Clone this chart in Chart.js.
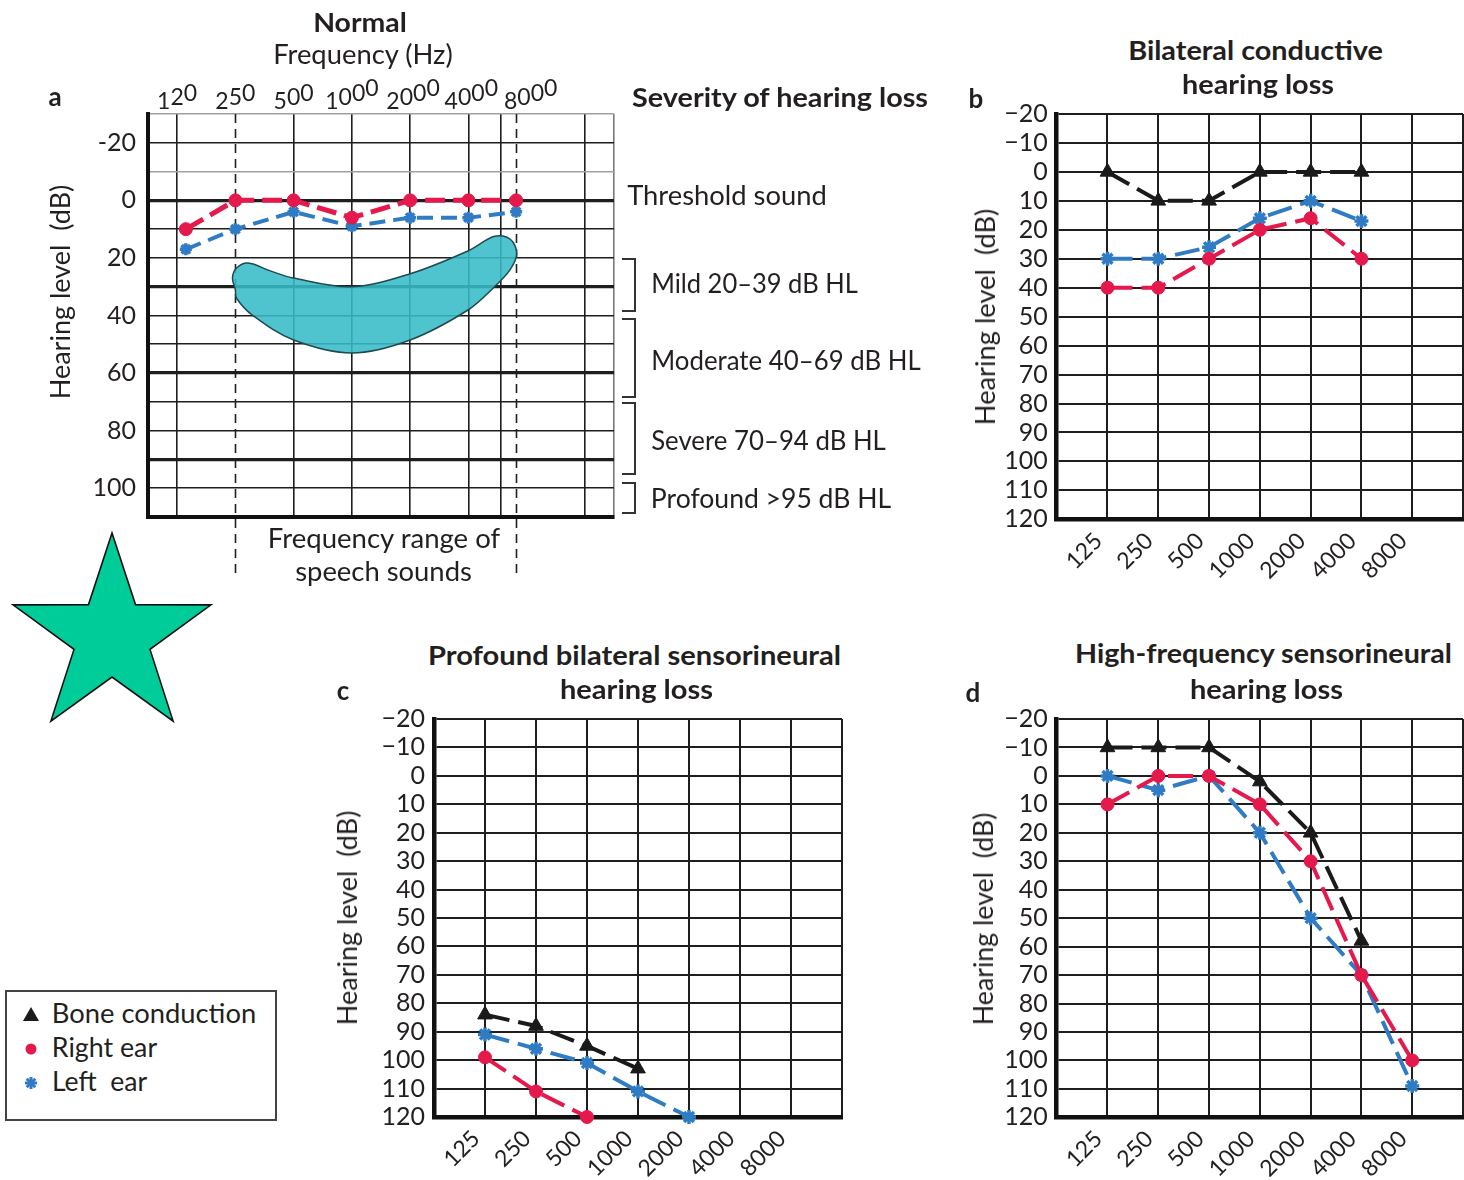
<!DOCTYPE html>
<html><head><meta charset="utf-8">
<script src="https://cdn.jsdelivr.net/npm/chart.js@4.4.1/dist/chart.umd.min.js"></script>
<style>
html,body{margin:0;padding:0;background:#fff}
body{width:1464px;height:1180px;position:relative;overflow:hidden;font-family:Lato,'Open Sans',sans-serif;color:#231f20}
canvas{position:absolute}
.t{position:absolute;left:0;top:0;white-space:nowrap;font-size:26px;line-height:30px;transform-origin:0 0}
.b{font-weight:700}
.brk{position:absolute;border:2px solid #333;border-left:none;width:12px}
#legend{position:absolute;left:5px;top:990px;width:268px;height:127px;border:2px solid #444}
</style></head><body>
<svg id="deco" width="1464" height="1180" style="position:absolute;left:0;top:0"></svg>
<canvas id="ca" width="660" height="600" style="left:0px;top:0px"></canvas>
<canvas id="cb" width="524" height="510" style="left:960px;top:90px"></canvas>
<canvas id="cc" width="530" height="485" style="left:330px;top:695px"></canvas>
<canvas id="cd" width="524" height="485" style="left:960px;top:695px"></canvas>
<div class="brk" style="left:622px;top:258px;height:50px"></div>
<div class="brk" style="left:622px;top:318px;height:76px"></div>
<div class="brk" style="left:622px;top:402px;height:69px"></div>
<div class="brk" style="left:622px;top:482px;height:28px"></div>
<div id="legend"></div>
<script>
// ---------- DATA ----------
const FREQ = ['125','250','500','1000','2000','4000','8000'];

// Panel a (Normal)
const A_LABELS = ['120','250','500','1000','2000','4000','8000'];
const A_LABEL_POS = [-1, 0, 1, 2, 3.05, 4.05, 5.07];
const A_POS = [-0.85, 0, 1, 2, 3, 4, 4.82];
const A_RIGHT = [10, 0, 0, 6, 0, 0, 0];
const A_LEFT = [17, 10, 4, 9, 6, 6, 4];
const A_VGRID = [-1.5, -1, 0, 1, 2, 3, 4, 4.55, 4.82, 6, 6.5];
const SPEECH_RANGE = [0, 4.82];
const A_YLABELS = [-20, 0, 20, 40, 60, 80, 100];
const SEVERITY_LINES = [0, 30, 60, 90];
const BLOB_X = [0.0, -0.05, 0.02, 0.22, 0.6, 1.0, 2.0, 3.0, 4.0, 4.45, 4.72, 4.83, 4.72, 4.45, 4.0, 3.0, 2.0, 1.0, 0.3, 0.02, 0.0];
const BLOB_Y = [31, 27, 23.5, 21.8, 24.5, 27, 30, 25.5, 17.5, 12.5, 13.5, 18.5, 24, 30, 38, 48.5, 53, 48.5, 40, 34, 31];

// Panel b (Bilateral conductive)
const B_BONE = [0, 10, 10, 0, 0, 0, null];
const B_RIGHT = [40, 40, 30, 20, 16, 30, null];
const B_LEFT = [30, 30, 26, 16, 10, 17, null];

// Panel c (Profound bilateral sensorineural)
const C_BONE = [84, 88, 95, 103, null, null, null];
const C_RIGHT = [99, 111, 120, null, null, null, null];
const C_LEFT = [91, 96, 101, 111, 120, null, null];

// Panel d (High-frequency sensorineural)
const D_BONE = [-10, -10, -10, 2, 20, 58, null];
const D_RIGHT = [10, 0, 0, 10, 30, 70, 100];
const D_LEFT = [0, 5, 0, 20, 50, 70, 109];

// ---------- STYLE ----------
const TXT = '#231f20', RED = '#e5194b', BLUE = '#2f7cc4', BLACK = '#1a1a1a', GRID = '#1e1e1e';
const YW = 60;
Chart.defaults.font.family = "Lato, 'Open Sans', sans-serif";
Chart.defaults.color = TXT;

function pad(rect, area, xh){
  return {left: area.l - rect.x - YW, top: area.t - rect.y, right: rect.x + rect.w - area.r, bottom: rect.y + rect.h - area.b - (xh||0)};
}
function series(arr){ return arr.map((v,i)=> v==null?null:{x:i+1,y:v}).filter(Boolean); }
function ds(label, pts, color, style, extra){
  return Object.assign({label, data:pts, borderColor:color, backgroundColor:color, borderWidth:4, borderDash:[25,9],
    pointStyle:style, pointRadius: style==='triangle'?8.5:(style==='star'?7:6.5), pointBackgroundColor:color, pointBorderColor:color,
    pointBorderWidth: style==='star'?3.5:1, tension:0, fill:false, clip:false}, extra||{});
}
const common = {responsive:false, animation:false, devicePixelRatio:1, events:[],
  plugins:{legend:{display:false}, tooltip:{enabled:false}}};

// ---------- PANEL A ----------
const speechPlugin = {
  id:'speech',
  beforeDatasetsDraw(chart){
    const {ctx, chartArea, scales:{x}} = chart;
    ctx.save(); ctx.strokeStyle = GRID; ctx.lineWidth = 1.6; ctx.setLineDash([9,6]);
    SPEECH_RANGE.forEach(v=>{ const px = Math.round(x.getPixelForValue(v))+0.5;
      ctx.beginPath(); ctx.moveTo(px, chartArea.top); ctx.lineTo(px, chartArea.bottom + 58); ctx.stroke(); });
    ctx.restore();
  },
  afterDraw(chart){
    const {ctx, chartArea, scales:{x}} = chart;
    ctx.save(); ctx.font = "23px Lato, 'Open Sans', sans-serif"; ctx.fillStyle = TXT; ctx.textBaseline = 'alphabetic';
    A_LABELS.forEach((lab,i)=>{
      const cx = x.getPixelForValue(A_LABEL_POS[i]);
      let px = cx - ctx.measureText(lab).width/2;
      for (let k=0;k<lab.length;k++){ const ch = lab[k];
        ctx.fillText(ch, px, chartArea.top - 5 - k*4.2); px += ctx.measureText(ch).width; }
    });
    ctx.restore();
  }
};
const rectA = {x:0,y:0,w:660,h:600}, areaA = {l:148,t:114,r:614,b:517};
new Chart(document.getElementById('ca'), {
  type:'line',
  data:{datasets:[
    ds('Right ear', A_POS.map((x,i)=>({x,y:A_RIGHT[i]})), RED, 'circle', {borderWidth:5, borderDash:[20,8], order:1}),
    ds('Left ear', A_POS.map((x,i)=>({x,y:A_LEFT[i]})), BLUE, 'star', {borderWidth:4, borderDash:[16,8], pointRadius:6, order:2}),
    {label:'Speech sounds', data: BLOB_X.map((x,i)=>({x,y:BLOB_Y[i]})), borderColor:'#1f4a50', borderWidth:1.5,
      backgroundColor:'rgba(55,187,199,0.88)', fill:'shape', tension:0.35, pointRadius:0, order:3}
  ]},
  options:Object.assign({}, common, {
    layout:{padding:pad(rectA, areaA, 0)},
    scales:{
      x:{type:'linear', min:-1.5, max:6.5,
        afterBuildTicks:s=>{ s.ticks = A_VGRID.map(v=>({value:v})); },
        afterFit:s=>{ s.height = 0; s.paddingLeft = 0; s.paddingRight = 0; },
        ticks:{display:false},
        grid:{drawTicks:false, lineWidth:1.6,
          color:c=>{ const v = c.tick ? c.tick.value : null; if (SPEECH_RANGE.includes(v)) return 'rgba(0,0,0,0)'; return v===6.5?'#7a7a7a':GRID; }},
        border:{color:'#111', width:4}},
      y:{type:'linear', reverse:true, min:-30, max:110,
        afterFit:s=>{ s.width = YW; },
        ticks:{stepSize:10, autoSkip:false, padding:12, font:{size:25}, callback:v=> A_YLABELS.includes(v) ? String(v) : ''},
        grid:{drawTicks:false,
          color:c=>{ const v = c.tick ? c.tick.value : 0; return (v===-10||v===-30)?'#a0a0a0':GRID; },
          lineWidth:c=>{ const v = c.tick ? c.tick.value : 0; return SEVERITY_LINES.includes(v)?3.2:1.6; }},
        border:{color:'#111', width:4}}
    }
  }),
  plugins:[speechPlugin]
});

// ---------- PANELS B, C, D ----------
function audiogram(id, rect, area, xh, bone, right, left){
  new Chart(document.getElementById(id), {
    type:'line',
    data:{datasets:[
      ds('Bone conduction', series(bone), BLACK, 'triangle'),
      ds('Right ear', series(right), RED, 'circle'),
      ds('Left ear', series(left), BLUE, 'star')
    ]},
    options:Object.assign({}, common, {
      layout:{padding:pad(rect, area, xh)},
      scales:{
        x:{type:'linear', min:0, max:8,
          afterBuildTicks:s=>{ s.ticks = [0,1,2,3,4,5,6,7,8].map(v=>({value:v})); },
          afterFit:s=>{ s.height = xh; s.paddingLeft = 0; s.paddingRight = 0; },
          ticks:{autoSkip:false, minRotation:45, maxRotation:45, padding:8, labelOffset:-9, font:{size:23},
            callback:v=> FREQ[v-1] || ''},
          grid:{drawTicks:false, lineWidth:2, color:GRID},
          border:{color:'#111', width:4.5}},
        y:{type:'linear', reverse:true, min:-20, max:120,
          afterFit:s=>{ s.width = YW; },
          ticks:{stepSize:10, autoSkip:false, padding:9, font:{size:25},
            callback:v=> v<0 ? '\u2212'+(-v) : String(v)},
          grid:{drawTicks:false, lineWidth:2, color:GRID},
          border:{color:'#111', width:4.5}}
      }
    })
  });
}
audiogram('cb', {x:960,y:90,w:524,h:510}, {l:1056.7,t:113.3,r:1463,b:519.3}, 75, B_BONE, B_RIGHT, B_LEFT);
audiogram('cc', {x:330,y:695,w:530,h:485}, {l:434,t:713.3,r:842,b:1117}, 60, C_BONE, C_RIGHT, C_LEFT);
audiogram('cd', {x:960,y:695,w:524,h:485}, {l:1056.7,t:713.3,r:1463,b:1117.3}, 60, D_BONE, D_RIGHT, D_LEFT);

// ---------- TEXT ----------
const TEXTS = [
  ['Normal', 360, 22, 94, 1],
  ['Frequency (Hz)', 363, 54, 180, 0],
  ['a', 55, 96, 0, 1],
  ['Severity of hearing loss', 780, 97, 296, 1],
  ['Threshold sound', 727, 195, 200, 0],
  ['Mild 20\u201339 dB HL', 754.5, 283, 207, 0],
  ['Moderate 40\u201369 dB HL', 786, 360, 270, 0],
  ['Severe 70\u201394 dB HL', 768.5, 440, 235, 0],
  ['Profound >95 dB HL', 771, 498, 240, 0],
  ['Frequency range of', 384, 538, 232, 0],
  ['speech sounds', 383.5, 571, 177, 0],
  ['Hearing level\u00a0 (dB)', 60, 292, 215, 0, -90],
  ['b', 976, 98, 0, 1],
  ['Bilateral conductive', 1255.5, 50, 255, 1],
  ['hearing loss', 1258, 84, 152, 1],
  ['Hearing level\u00a0 (dB)', 985, 317, 217, 0, -90],
  ['c', 343, 690, 0, 1],
  ['Profound bilateral sensorineural', 634.5, 655, 413, 1],
  ['hearing loss', 636.5, 689, 153, 1],
  ['Hearing level\u00a0 (dB)', 347, 918, 215, 0, -90],
  ['d', 973, 692, 0, 1],
  ['High-frequency sensorineural', 1263.5, 653, 377, 1],
  ['hearing loss', 1266.5, 689, 153, 1],
  ['Hearing level\u00a0 (dB)', 983, 919, 213, 0, -90],
  ['Bone conduction', 154, 1013, 204, 0],
  ['Right ear', 104.5, 1047, 105, 0],
  ['Left\u00a0 ear', 99.5, 1081, 95, 0]
];
TEXTS.forEach(([txt,cx,cy,w,bold,rot])=>{
  const el = document.createElement('div'); el.className = 't' + (bold?' b':''); el.textContent = txt;
  document.body.appendChild(el);
  const nat = el.offsetWidth; const s = w ? w/nat : 1;
  el.style.transform = `translate(${cx}px,${cy}px) rotate(${rot||0}deg) scaleX(${s}) translate(-50%,-50%)`;
});

// ---------- DECORATION: star + legend symbols ----------
const svg = document.getElementById('deco');
const NS = 'http://www.w3.org/2000/svg';
(function(){
  const cx = 112, cy = 637, R = 104, r = 40; const p = [];
  for (let i=0;i<10;i++){ const a = -Math.PI/2 + i*Math.PI/5; const rr = i%2?r:R; p.push((cx+rr*Math.cos(a)).toFixed(1)+','+(cy+rr*Math.sin(a)).toFixed(1)); }
  const poly = document.createElementNS(NS,'polygon'); poly.setAttribute('points', p.join(' '));
  poly.setAttribute('fill','#00cc99'); poly.setAttribute('stroke','#111'); poly.setAttribute('stroke-width','1.6');
  svg.appendChild(poly);
  const tri = document.createElementNS(NS,'polygon'); tri.setAttribute('points','23,1021 39,1021 31,1007'); tri.setAttribute('fill',BLACK); svg.appendChild(tri);
  const dot = document.createElementNS(NS,'circle'); dot.setAttribute('cx',31); dot.setAttribute('cy',1049); dot.setAttribute('r',5.5); dot.setAttribute('fill',RED); svg.appendChild(dot);
  [[0,6],[6,0],[4.3,4.3],[4.3,-4.3]].forEach(([dx,dy])=>{
    const l = document.createElementNS(NS,'line'); l.setAttribute('x1',31-dx); l.setAttribute('y1',1083-dy); l.setAttribute('x2',31+dx); l.setAttribute('y2',1083+dy);
    l.setAttribute('stroke',BLUE); l.setAttribute('stroke-width',3); svg.appendChild(l);
  });
})();
</script>
</body></html>
